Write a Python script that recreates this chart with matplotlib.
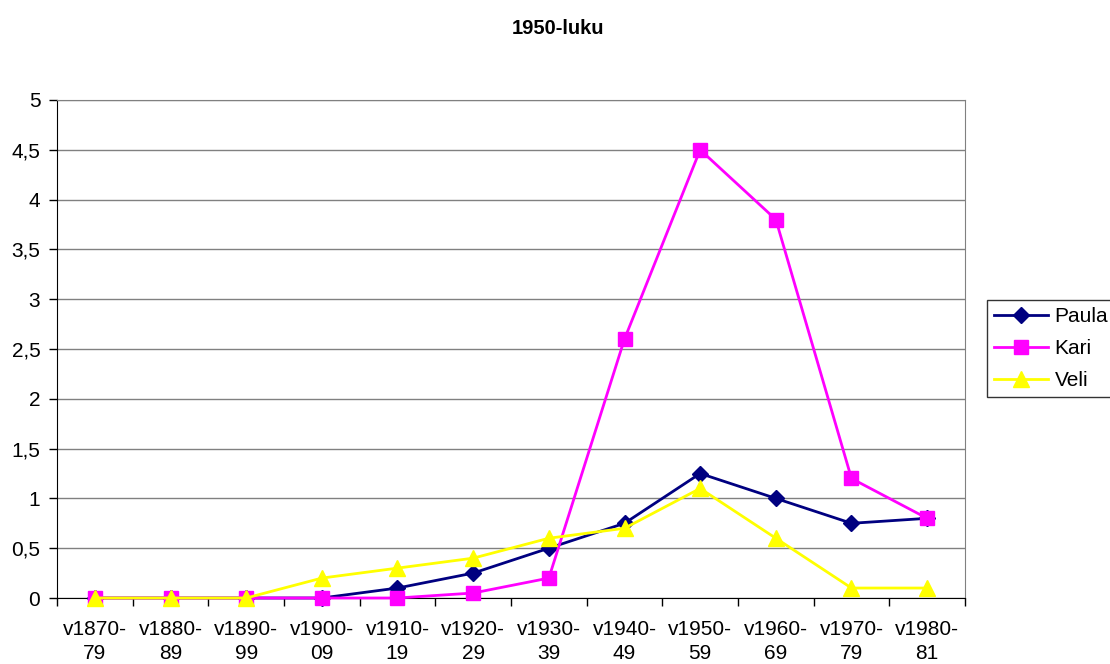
import matplotlib
matplotlib.use("Agg")
import matplotlib.pyplot as plt
import numpy as np
from matplotlib.ticker import FixedLocator, FuncFormatter

plt.rcParams['font.family'] = ['Liberation Sans', 'DejaVu Sans']

decades = ["v1870-\n79", "v1880-\n89", "v1890-\n99", "v1900-\n09", "v1910-\n19",
           "v1920-\n29", "v1930-\n39", "v1940-\n49", "v1950-\n59", "v1960-\n69",
           "v1970-\n79", "v1980-\n81"]
paula = [0, 0, 0, 0, 0.1, 0.25, 0.5, 0.75, 1.25, 1.0, 0.75, 0.8]
kari = [0, 0, 0, 0, 0, 0.05, 0.2, 2.6, 4.5, 3.8, 1.2, 0.8]
veli = [0, 0, 0, 0.2, 0.3, 0.4, 0.6, 0.7, 1.1, 0.6, 0.1, 0.1]

fig = plt.figure(figsize=(11.1, 6.64), dpi=100)
ax = fig.add_axes([57 / 1110, 1 - 598 / 664, 908 / 1110, 498 / 664])

x = np.arange(len(decades))
ax.plot(x, paula, color='#000080', marker='D', markersize=8, lw=2,
        label='Paula', clip_on=False, zorder=3)
ax.plot(x, kari, color='#FF00FF', marker='s', markersize=10, lw=2,
        label='Kari', clip_on=False, zorder=4)
ax.plot(x, veli, color='#FFFF00', marker='^', markersize=11, lw=2,
        label='Veli', clip_on=False, zorder=5)

ax.set_xlim(-0.5, len(decades) - 0.5)
ax.set_ylim(0, 5)
ax.set_yticks(np.arange(0, 5.01, 0.5))
ax.yaxis.set_major_formatter(FuncFormatter(lambda v, p: f"{v:g}".replace('.', ',')))
ax.yaxis.grid(True, color='#808080', lw=1)
ax.set_axisbelow(True)

ax.set_xticks(x)
ax.set_xticklabels(decades, fontsize=15, linespacing=1.3)
ax.tick_params(axis='x', which='major', length=0, pad=16)
ax.xaxis.set_minor_locator(FixedLocator(np.arange(-0.5, len(decades), 1)))
ax.tick_params(axis='x', which='minor', length=6, direction='out', width=1)
ax.tick_params(axis='y', labelsize=15, length=6, direction='out', width=1, pad=6)

for s in ['top', 'right']:
    ax.spines[s].set_color('#808080')
ax.spines['left'].set_color('black')
ax.spines['bottom'].set_color('black')

fig.text(558 / 1110, 1 - 28 / 664, '1950-luku', ha='center', va='center',
         fontsize=14.5, fontweight='bold')

leg = fig.legend(loc='upper left', bbox_to_anchor=(987 / 1110, 1 - 300 / 664),
                 fontsize=15, frameon=True, fancybox=False, edgecolor='black',
                 handlelength=2.6, borderpad=0.35, labelspacing=0.62,
                 handletextpad=0.3, borderaxespad=0)
leg.get_frame().set_linewidth(1)

fig.savefig('out.png', dpi=100)
